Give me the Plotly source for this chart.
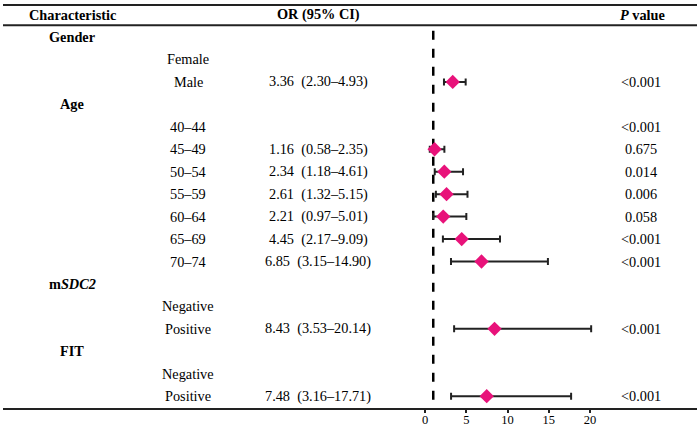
import plotly.graph_objects as go

# ---- data ----
group_labels = ["<b>Gender</b>", "", "", "<b>Age</b>", "", "", "", "", "", "", "",
                "<b>m<i>SDC2</i></b>", "", "", "<b>FIT</b>", "", ""]
sub_labels = ["", "Female", "Male", "", "40–44", "45–49", "50–54", "55–59", "60–64",
              "65–69", "70–74", "", "Negative", "Positive", "", "Negative", "Positive"]
or_vals = [None, None, 3.36, None, None, 1.16, 2.34, 2.61, 2.21, 4.45, 6.85,
           None, None, 8.43, None, None, 7.48]
ci_low = [None, None, 2.30, None, None, 0.58, 1.18, 1.32, 0.97, 2.17, 3.15,
          None, None, 3.53, None, None, 3.16]
ci_high = [None, None, 4.93, None, None, 2.35, 4.61, 5.15, 5.01, 9.09, 14.90,
           None, None, 20.14, None, None, 17.71]
p_values = ["", "", "<0.001", "", "<0.001", "0.675", "0.014", "0.006", "0.058",
            "<0.001", "<0.001", "", "", "<0.001", "", "", "<0.001"]
headers = ["<b>Characteristic</b>", "<b>OR (95% CI)</b>", "<b><i>P</i> value</b>"]
x_ticks = [0, 5, 10, 15, 20]
ref_line = 1

rows = list(range(1, len(sub_labels) + 1))

FONT = "Liberation Serif, Times New Roman, serif"
PINK = "#E8127A"

fig = go.Figure()

xs, ys, ep, em = [], [], [], []
for r, v, lo, hi in zip(rows, or_vals, ci_low, ci_high):
    if v is None:
        continue
    xs.append(v)
    ys.append(r)
    ep.append(hi - v)
    em.append(v - lo)

fig.add_trace(go.Scatter(
    x=xs, y=ys, mode="markers",
    marker=dict(symbol="diamond", size=11, color=PINK, line=dict(width=0)),
    error_x=dict(type="data", symmetric=False, array=ep, arrayminus=em,
                 color="#222222", thickness=2, width=3.5),
    showlegend=False, hoverinfo="skip",
))

L, R = 3, 3
W = 700 - L - R
top, bottom = 4, 20
H = 428 - top - bottom
step = 22.45
ymin = 1 - (37 - top) / step
ymax = ymin + H / step

# reference line
fig.add_shape(type="line", xref="x", yref="y", x0=ref_line, x1=ref_line,
              y0=0.72, y1=17.2, line=dict(color="black", width=2.5, dash="dash"),
              layer="below")

# horizontal rules
fig.add_shape(type="line", xref="paper", yref="y", x0=0, x1=1,
              y0=ymin + 0.04, y1=ymin + 0.04,
              line=dict(color="#222222", width=2))
fig.add_shape(type="line", xref="paper", yref="y", x0=0, x1=1, y0=0.48, y1=0.48,
              line=dict(color="#222222", width=2))


def px(p):
    return (p - L) / W


FS = 14.3
col_x = [px(72), px(318), px(642)]
for h, cx in zip(headers, col_x):
    fig.add_annotation(x=cx, y=0, xref="paper", yref="y", text=h, showarrow=False,
                       xanchor="center", yanchor="middle",
                       font=dict(family=FONT, size=FS, color="black"))

for r, g, s, v, lo, hi, p in zip(rows, group_labels, sub_labels, or_vals,
                                  ci_low, ci_high, p_values):
    if g:
        fig.add_annotation(x=px(72), y=r, xref="paper", yref="y", text=g,
                           showarrow=False, xanchor="center", yanchor="middle",
                           font=dict(family=FONT, size=FS, color="black"))
    if s:
        fig.add_annotation(x=px(188), y=r, xref="paper", yref="y", text=s,
                           showarrow=False, xanchor="center", yanchor="middle",
                           font=dict(family=FONT, size=FS, color="black"))
    if v is not None:
        txt = f"{v:.2f}  ({lo:.2f}–{hi:.2f})"
        fig.add_annotation(x=px(318), y=r, xref="paper", yref="y", text=txt,
                           showarrow=False, xanchor="center", yanchor="middle",
                           font=dict(family=FONT, size=FS, color="black"))
    if p:
        fig.add_annotation(x=px(641), y=r, xref="paper", yref="y",
                           text=p.replace("<", "&lt;"),
                           showarrow=False, xanchor="center", yanchor="middle",
                           font=dict(family=FONT, size=FS, color="black"))

ppu = 8.25
zero_px = 425 - L
xr = [-zero_px / ppu, (W - zero_px) / ppu]

fig.update_layout(
    width=700, height=428,
    margin=dict(l=L, r=R, t=top, b=bottom, autoexpand=False),
    paper_bgcolor="white", plot_bgcolor="white",
    xaxis=dict(range=xr, tickvals=x_ticks, ticktext=[str(t) for t in x_ticks],
               automargin=False, ticklabelstandoff=-4,
               showgrid=False, zeroline=False, showline=True, linecolor="#222222",
               linewidth=2, ticks="outside", ticklen=3, tickwidth=1.5,
               tickcolor="#222222", tickfont=dict(family=FONT, size=12.5, color="black")),
    yaxis=dict(range=[ymax, ymin], visible=False, showgrid=False, zeroline=False,
               automargin=False),
)

fig.write_html("out.html", config={"displayModeBar": False},
               post_script="document.body.style.margin='0px';document.body.style.padding='0px';")
